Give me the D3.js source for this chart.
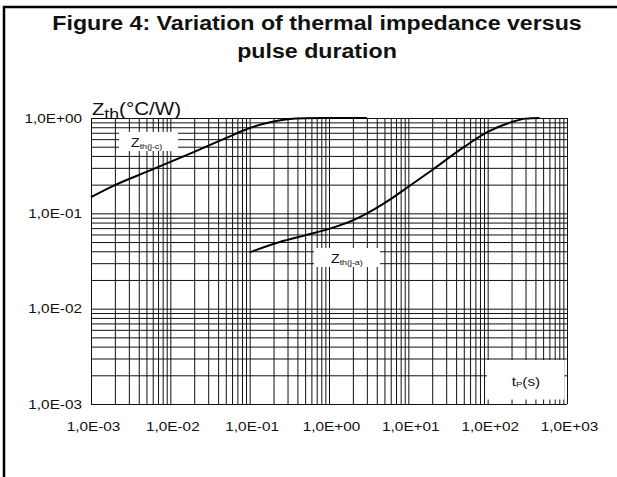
<!DOCTYPE html>
<html>
<head>
<meta charset="utf-8">
<script src="https://cdn.jsdelivr.net/npm/d3@7"></script>
<style>
  html, body { margin: 0; padding: 0; background: #fff; }
  svg { display: block; font-family: "Liberation Sans", Arial, sans-serif; }
</style>
</head>
<body>
<svg id="chart" width="617" height="477"></svg>
<script>
// Pulse duration (s) decade ticks and their labels
const xTickValues = [1e-3, 1e-2, 1e-1, 1e0, 1e1, 1e2, 1e3];
const xTickLabels = ["1,0E-03", "1,0E-02", "1,0E-01", "1,0E+00", "1,0E+01", "1,0E+02", "1,0E+03"];
// Thermal impedance (°C/W) decade ticks and their labels
const yTickValues = [1e-3, 1e-2, 1e-1, 1e0];
const yTickLabels = ["1,0E-03", "1,0E-02", "1,0E-01", "1,0E+00"];

// Junction-to-case curve: pulse duration (s) and Zth (°C/W)
const jcTime  = [0.001, 0.002, 0.005, 0.01, 0.02, 0.05, 0.1, 0.2, 0.3, 0.5, 1, 3];
const jcZth   = [0.148, 0.198, 0.272, 0.346, 0.442, 0.615, 0.785, 0.92, 0.97, 0.995, 1.0, 1.0];
// Junction-to-ambient curve
const jaTime  = [0.1, 0.24, 0.5, 1, 2, 5, 10, 20, 50, 100, 200, 300, 450];
const jaZth   = [0.039, 0.050, 0.0587, 0.0687, 0.0844, 0.128, 0.190, 0.285, 0.494, 0.714, 0.905, 0.985, 1.0];

const SX = 1.18; // horizontal text stretch

const svg = d3.select("#chart");

// Figure frame (top and left rules)
svg.append("path")
  .attr("d", "M4,477V7H617")
  .attr("fill", "none").attr("stroke", "#000").attr("stroke-width", 2.5);

// Title
const title = svg.append("g").attr("font-weight", "bold").attr("font-size", 20).attr("fill", "#111");
[["Figure 4: Variation of thermal impedance versus", 30], ["pulse duration", 58]].forEach(([t, yy]) => {
  title.append("text")
    .attr("transform", `translate(317,${yy}) scale(1.16,1)`)
    .attr("text-anchor", "middle")
    .text(t);
});

const plotL = 91, plotR = 567, plotT = 118, plotB = 404;
const x = d3.scaleLog().domain([1e-3, 1e3]).range([plotL, plotR]);
const y = d3.scaleLog().domain([1e-3, 1]).range([plotB, plotT]);

// Grid values: 1..9 within every decade
const gridX = [];
for (let e = -3; e < 3; e++) for (let k = 1; k <= 9; k++) gridX.push(k * Math.pow(10, e));
gridX.push(1e3);
const gridY = [];
for (let e = -3; e < 0; e++) for (let k = 1; k <= 9; k++) gridY.push(k * Math.pow(10, e));
gridY.push(1);

const grid = svg.append("g");
grid.append("g")
  .attr("transform", `translate(0,${plotB})`)
  .call(d3.axisBottom(x).tickValues(gridX).tickSize(-(plotB - plotT)).tickFormat(""))
  .call(g => g.select(".domain").remove())
  .call(g => g.selectAll("line").attr("stroke", "#111"));
grid.append("g")
  .attr("transform", `translate(${plotL},0)`)
  .call(d3.axisLeft(y).tickValues(gridY).tickSize(-(plotR - plotL)).tickFormat(""))
  .call(g => g.select(".domain").remove())
  .call(g => g.selectAll("line").attr("stroke", "#111"));

// Tick labels
const xAxis = svg.append("g")
  .attr("transform", `translate(2,${plotB})`)
  .call(d3.axisBottom(x).tickValues(xTickValues).tickSize(0).tickPadding(0)
    .tickFormat((d, i) => xTickLabels[i]));
xAxis.select(".domain").remove();
xAxis.selectAll("text")
  .attr("font-family", "Liberation Sans, Arial, sans-serif")
  .attr("font-size", 13).attr("fill", "#111")
  .attr("y", 0).attr("dy", 27.5)
  .attr("transform", `scale(${SX},1)`);

const yAxis = svg.append("g")
  .attr("transform", `translate(${plotL},0)`)
  .call(d3.axisLeft(y).tickValues(yTickValues).tickSize(0).tickPadding(0)
    .tickFormat((d, i) => yTickLabels[i]));
yAxis.select(".domain").remove();
yAxis.selectAll("text")
  .attr("font-family", "Liberation Sans, Arial, sans-serif")
  .attr("font-size", 13).attr("fill", "#111")
  .attr("x", -9 / SX).attr("dy", "0.32em")
  .attr("transform", `scale(${SX},1)`);

// White label panels over the grid
const panels = [
  { x0: 119, x1: 178, y0: 132, y1: 151 },
  { x0: 314, x1: 380, y0: 248, y1: 267 },
  { x0: 487, x1: 564.5, y0: 360, y1: 399.5 }
];
svg.append("g").selectAll("rect").data(panels).join("rect")
  .attr("x", d => d.x0).attr("y", d => d.y0)
  .attr("width", d => d.x1 - d.x0).attr("height", d => d.y1 - d.y0)
  .attr("fill", "#fff");

// Curves
const line = d3.line().curve(d3.curveMonotoneX);
const curves = svg.append("g").attr("fill", "none").attr("stroke", "#000").attr("stroke-width", 2);
curves.append("path").attr("d", line(jcTime.map((t, i) => [x(t), y(jcZth[i])])));
curves.append("path").attr("d", line(jaTime.map((t, i) => [x(t), y(jaZth[i])])));

// Text helper with stretched glyphs
function label(parent, xx, yy, parts, anchor) {
  const t = parent.append("text")
    .attr("transform", `translate(${xx},${yy}) scale(${SX},1)`)
    .attr("text-anchor", anchor || "start")
    .attr("fill", "#111");
  parts.forEach(p => {
    t.append("tspan").attr("font-size", p.size).attr("dy", p.dy || 0).text(p.text);
  });
  return t;
}

const labels = svg.append("g");
// Axis title
label(labels, 92, 115, [
  { text: "Z", size: 17 },
  { text: "th", size: 15, dy: 4 },
  { text: "(°C/W)", size: 17.5, dy: -4 }
]);
// Curve names
label(labels, 131, 147, [
  { text: "Z", size: 12 },
  { text: "th(j-c)", size: 7.5, dy: 2 }
]);
label(labels, 331, 263, [
  { text: "Z", size: 12 },
  { text: "th(j-a)", size: 7.5, dy: 2 }
]);
// Time axis title
label(labels, 526, 386, [
  { text: "t", size: 13 },
  { text: "P", size: 8, dy: 1 },
  { text: "(s)", size: 13, dy: -1 }
], "middle");
</script>
</body>
</html>
